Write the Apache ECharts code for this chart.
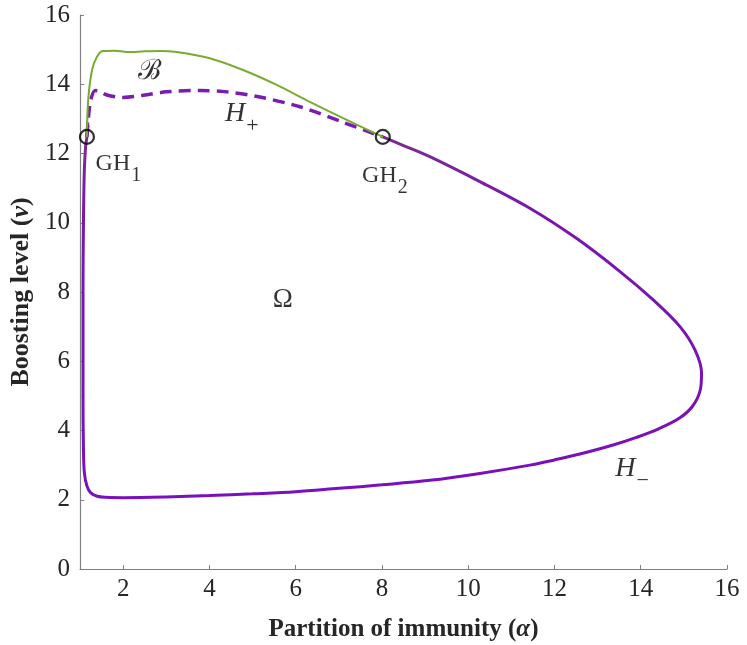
<!DOCTYPE html>
<html>
<head>
<meta charset="utf-8">
<script src="https://cdn.jsdelivr.net/npm/echarts@6/dist/echarts.min.js"></script>
<style>
html,body{margin:0;padding:0;background:#fff;}
#c{width:747px;height:645px;}
</style>
</head>
<body>
<div id="c"></div>
<script>
// H- branch (solid purple): from GH2 around the right tip, along the bottom, up to GH1
const hMinusAlpha = [8.02, 8.5, 9.11, 10.27, 11.43, 12.51, 13.52, 14.29, 14.91, 15.26, 15.41, 15.38, 15.2, 14.9, 14.4, 13.9, 13.36, 12.59, 12.0, 11.43, 10.27, 9.11, 8.0, 7.0, 6.0, 5.0, 4.0, 3.0, 2.0, 1.6, 1.4, 1.25, 1.16, 1.1, 1.08, 1.07, 1.07, 1.08, 1.1, 1.13, 1.16, 1.18];
const hMinusNu    = [12.48, 12.23, 11.91, 11.19, 10.42, 9.55, 8.59, 7.77, 7.0, 6.32, 5.66, 5.17, 4.7, 4.36, 4.04, 3.8, 3.58, 3.32, 3.15, 3.0, 2.76, 2.56, 2.43, 2.33, 2.23, 2.17, 2.12, 2.08, 2.06, 2.07, 2.1, 2.2, 2.4, 2.8, 3.5, 5.0, 8.0, 10.0, 11.5, 12.2, 12.48, 12.9];
// H+ branch (dashed purple)
const hPlusAlpha = [1.16, 1.2, 1.25, 1.35, 1.45, 1.62, 2.0, 2.47, 3.0, 3.78, 4.4, 5.17, 6.1, 7.1, 8.02];
const hPlusNu    = [12.48, 13.1, 13.55, 13.82, 13.8, 13.69, 13.62, 13.68, 13.78, 13.82, 13.78, 13.63, 13.35, 12.9, 12.48];
// B curve (green)
const bAlpha = [1.16, 1.19, 1.28, 1.39, 1.53, 1.8, 2.09, 2.5, 2.85, 3.24, 4.01, 4.78, 5.56, 6.33, 7.1, 8.02];
const bNu    = [12.48, 13.55, 14.41, 14.79, 14.96, 14.97, 14.93, 14.95, 14.96, 14.93, 14.75, 14.41, 13.98, 13.49, 13.02, 12.48];
// GH points
const ghAlpha = [1.16, 8.02];
const ghNu    = [12.48, 12.48];
// Annotations
const annText  = ['{b|ℬ}', '{h|H}{s|+}', '{g|GH}{gs|1}', '{g|GH}{gs|2}', '{o|Ω}', '{h|H}{s|−}'];
const annAlpha = [2.62, 4.75, 1.89, 8.07, 5.7, 13.8];
const annNu    = [14.35, 13.15, 11.7, 11.35, 7.77, 2.9];
// Ticks
const xTicks = [2, 4, 6, 8, 10, 12, 14, 16];

const zip = (a, b) => a.map((v, i) => [v, b[i]]);
const FONT = "'Liberation Serif','Times New Roman','DejaVu Serif',serif";

const chart = echarts.init(document.getElementById('c'), null, {renderer: 'canvas'});
chart.setOption({
  animation: false,
  backgroundColor: '#fff',
  grid: {left: 80, right: 20, top: 15, bottom: 76, containLabel: false, outerBoundsMode: 'none'},
  xAxis: {
    type: 'value', min: 1, max: 16,
    name: '{t|Partition of immunity (}{i|α}{t|)}',
    nameLocation: 'middle', nameGap: 48,
    nameTextStyle: {
      rich: {
        t: {fontFamily: FONT, fontWeight: 'bold', fontSize: 25, color: '#262626'},
        i: {fontFamily: FONT, fontWeight: 'bold', fontStyle: 'italic', fontSize: 25, color: '#262626'}
      }
    },
    splitLine: {show: false},
    axisLine: {show: true, onZero: false, lineStyle: {color: '#808080', width: 1.2}},
    axisTick: {show: true, inside: true, length: 4, customValues: xTicks, lineStyle: {color: '#808080'}},
    axisLabel: {customValues: xTicks, fontFamily: FONT, fontSize: 25, color: '#262626', margin: 8}
  },
  yAxis: {
    type: 'value', min: 0, max: 16, interval: 2,
    name: '{t|Boosting level (}{i|ν}{t|)}',
    nameLocation: 'middle', nameGap: 44,
    nameTextStyle: {
      rich: {
        t: {fontFamily: FONT, fontWeight: 'bold', fontSize: 26, color: '#262626'},
        i: {fontFamily: FONT, fontWeight: 'bold', fontStyle: 'italic', fontSize: 26, color: '#262626'}
      }
    },
    splitLine: {show: false},
    axisLine: {show: true, onZero: false, lineStyle: {color: '#808080', width: 1.2}},
    axisTick: {show: true, inside: true, length: 4, lineStyle: {color: '#808080'}},
    axisLabel: {fontFamily: FONT, fontSize: 25, color: '#262626', margin: 10}
  },
  series: [
    {
      type: 'line', name: 'H-', data: zip(hMinusAlpha, hMinusNu),
      showSymbol: false, smooth: 0.35, z: 2,
      lineStyle: {
        width: 3,
        color: new echarts.graphic.LinearGradient(0, 0, 0, 1, [
          {offset: 0, color: '#7E2F8E'},
          {offset: 0.25, color: '#7A16AE'},
          {offset: 1, color: '#7A0FBE'}
        ])
      }
    },
    {
      type: 'line', name: 'H+', data: zip(hPlusAlpha, hPlusNu),
      showSymbol: false, smooth: 0.3, z: 3,
      lineStyle: {width: 3.5, color: '#7A1CB2', type: [12, 7]}
    },
    {
      type: 'line', name: 'B', data: zip(bAlpha, bNu),
      showSymbol: false, smooth: 0.3, z: 4,
      lineStyle: {width: 2, color: '#77AC30'}
    },
    {
      type: 'scatter', name: 'GH', data: zip(ghAlpha, ghNu), z: 5,
      symbol: 'circle', symbolSize: 14,
      itemStyle: {color: 'rgba(0,0,0,0)', borderColor: '#000', borderWidth: 2.2}
    },
    {
      type: 'scatter', name: 'ann', z: 6, symbolSize: 1, silent: true,
      itemStyle: {color: 'rgba(0,0,0,0)'},
      data: annAlpha.map((a, i) => ({value: [a, annNu[i]], name: annText[i]})),
      label: {
        show: true, position: 'inside',
        formatter: p => p.name,
        rich: {
          b: {fontFamily: FONT, fontSize: 28, color: '#000'},
          h: {fontFamily: FONT, fontSize: 28, fontStyle: 'italic', color: '#000'},
          s: {fontFamily: FONT, fontSize: 22, color: '#000', padding: [26, 0, 0, 1]},
          g: {fontFamily: FONT, fontSize: 24, color: '#000'},
          gs: {fontFamily: FONT, fontSize: 20, color: '#000', padding: [24, 0, 0, 1]},
          o: {fontFamily: FONT, fontSize: 27, color: '#000'}
        }
      }
    }
  ]
});
</script>
</body>
</html>
